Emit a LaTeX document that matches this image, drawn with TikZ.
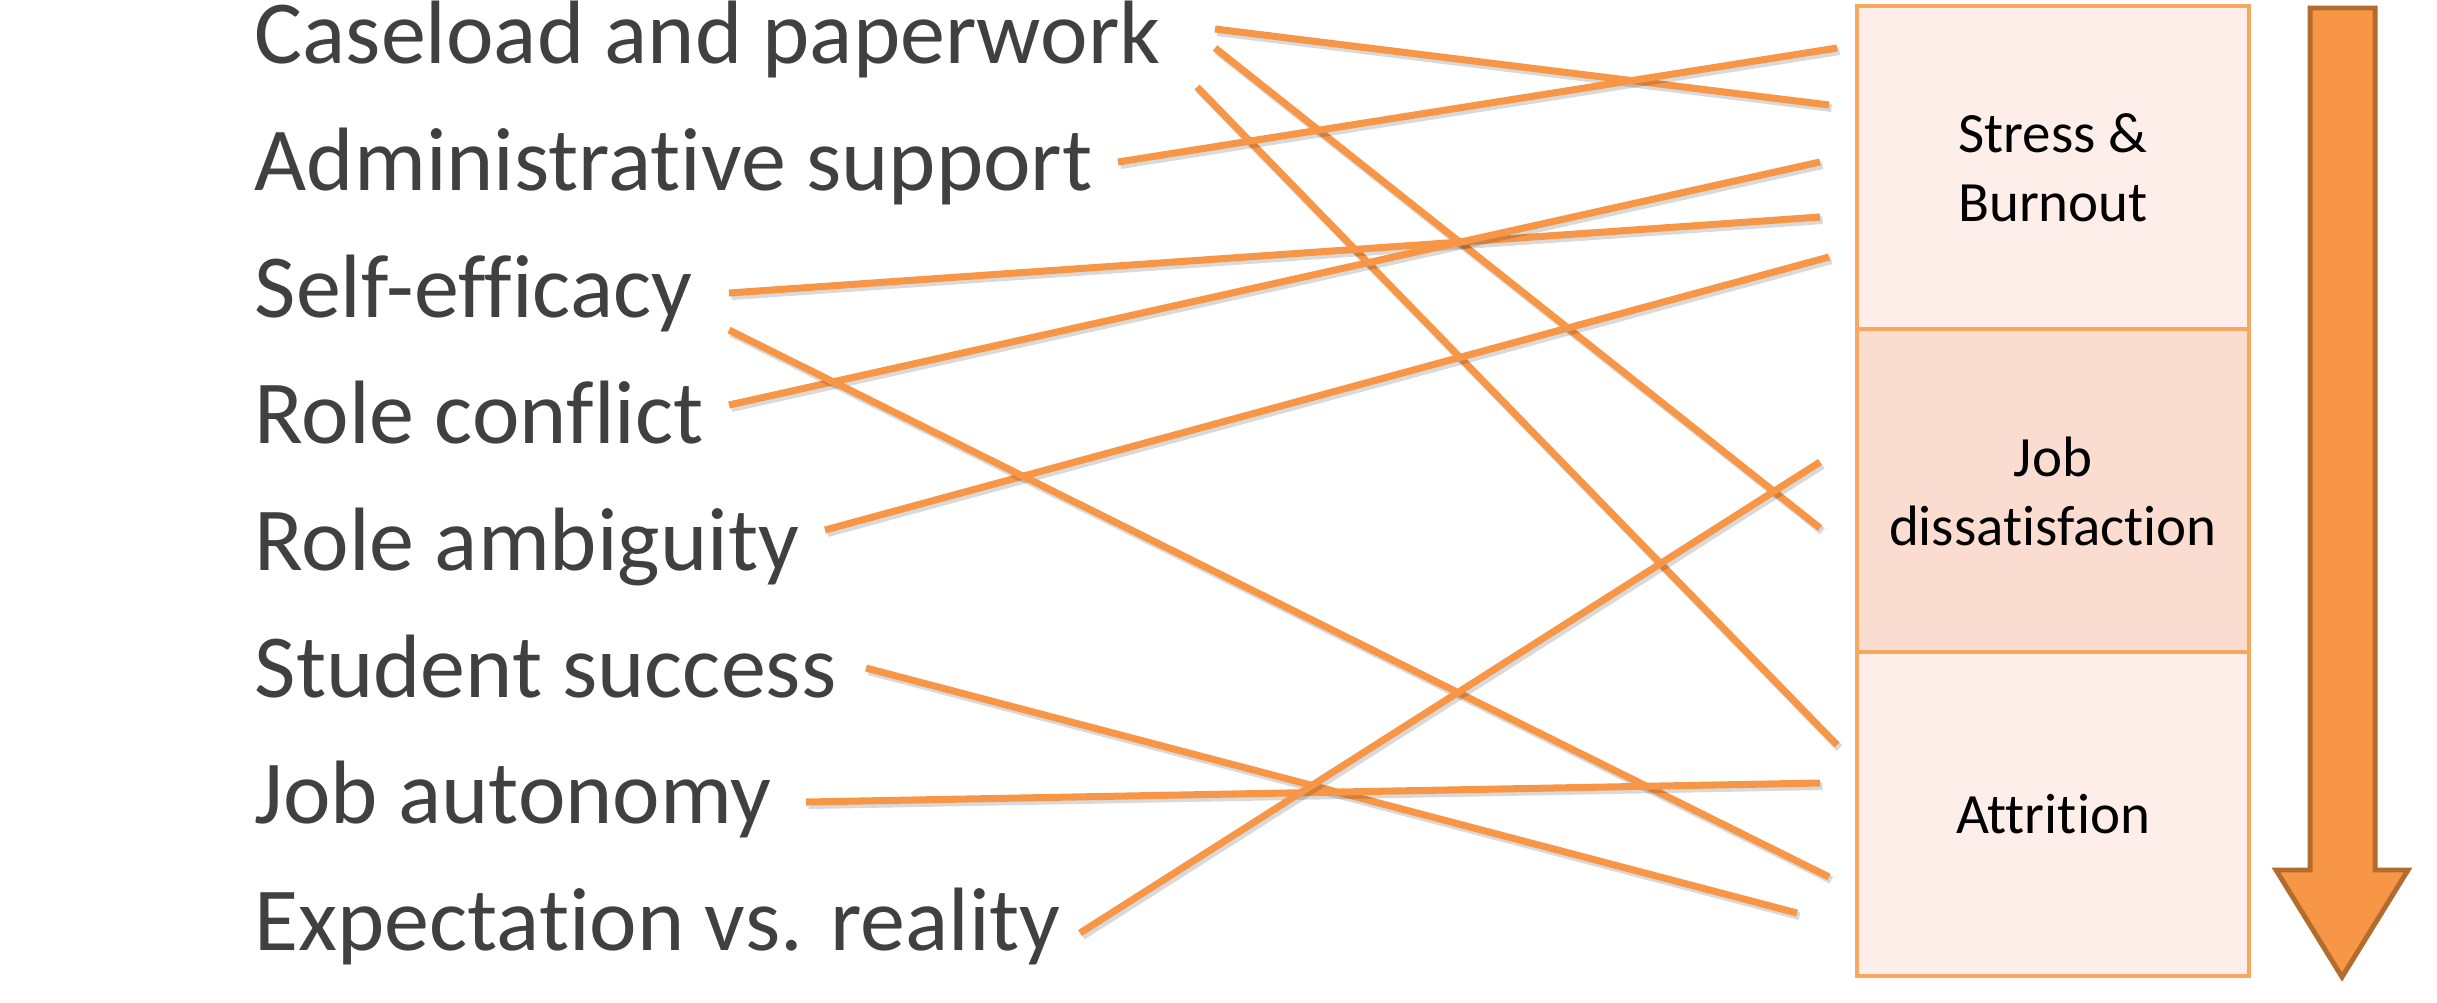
\documentclass[tikz,border=0pt]{standalone}
\usepackage{fontspec}
\setmainfont{Carlito}[Ligatures={NoCommon}]
\begin{document}
\begin{tikzpicture}[x=0.01cm,y=-0.01cm,
  factor/.style={anchor=base west, inner sep=0pt, text=txtgray, font=\fontsize{25.6pt}{30pt}\selectfont},
  stage/.style={draw=boxline, line width=1.1pt, minimum width=3.92cm, minimum height=3.23cm, inner sep=0pt, align=center, text=black, font=\fontsize{16.2pt}{19.6pt}\selectfont},
  link/.style={draw=linkorange, line width=2pt,
    preaction={draw=black, opacity=0.15, line width=2.2pt, transform canvas={shift={(0.7pt,-0.9pt)}}}}
]
\definecolor{txtgray}{HTML}{404040}
\definecolor{boxline}{HTML}{F8A660}
\definecolor{lightfill}{HTML}{FDEEEA}
\definecolor{midfill}{HTML}{FBDCD1}
\definecolor{linkorange}{HTML}{F79646}
\definecolor{arrowline}{HTML}{B46C2E}
\useasboundingbox (0,0) rectangle (2437,1002);

% factors
\node[factor] (f1) at (254,63) {Caseload and paperwork};
\node[factor] (f2) at (254,190) {Administrative support};
\node[factor] (f3) at (254,317) {Self-efficacy};
\node[factor] (f4) at (254,443) {Role conflict};
\node[factor] (f5) at (254,570) {Role ambiguity};
\node[factor] (f6) at (254,697) {Student success};
\node[factor] (f7) at (254,823) {Job autonomy};
\node[factor] (f8) at (254,950) {Expectation vs. reality};

% stages
\node[stage, fill=lightfill] (sb) at (2053,168) {Stress \&\\Burnout};
\node[stage, fill=midfill] (jd) at (2053,491) {Job\\dissatisfaction};
\node[stage, fill=lightfill] (at) at (2053,814) {Attrition};

% big arrow
\draw[fill=linkorange, draw=arrowline, line width=1.4pt, line join=miter]
  (2310,8) -- (2375,8) -- (2375,870) -- (2408,870) -- (2342,977) -- (2276,870) -- (2310,870) -- cycle;

% connector end points
\coordinate (a1) at (1215,29);   \coordinate (b1) at (1829,105);
\coordinate (a2) at (1215,48);   \coordinate (b2) at (1820,528);
\coordinate (a3) at (1197,87);   \coordinate (b3) at (1837,745);
\coordinate (a4) at (1118,162);  \coordinate (b4) at (1837,48);
\coordinate (a5) at (729,293);   \coordinate (b5) at (1820,217);
\coordinate (a6) at (729,405);   \coordinate (b6) at (1820,162);
\coordinate (a7) at (825,530);   \coordinate (b7) at (1829,257);
\coordinate (a8) at (729,330);   \coordinate (b8) at (1829,877);
\coordinate (a9) at (866,668);   \coordinate (b9) at (1797,913);
\coordinate (a10) at (806,802);  \coordinate (b10) at (1820,783);
\coordinate (a11) at (1080,933); \coordinate (b11) at (1820,462);

\foreach \i in {1,...,11} { \path[link] (a\i) -- (b\i); }
\end{tikzpicture}
\end{document}
